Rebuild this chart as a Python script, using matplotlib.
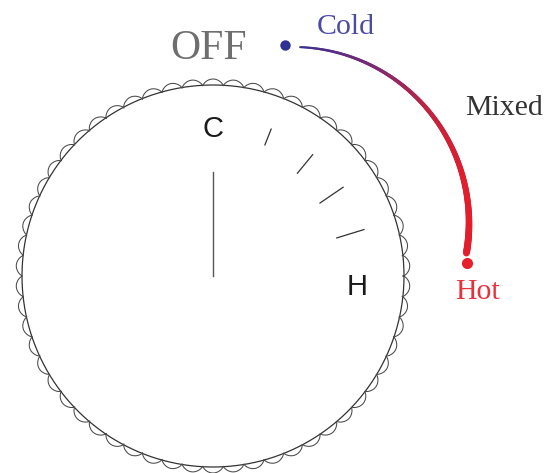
import numpy as np
import matplotlib.pyplot as plt
from matplotlib.collections import LineCollection
from matplotlib.colors import to_rgb

# dial geometry (pixel units, y pointing down)
dial_center = (213, 276)
dial_radius = 191
n_bumps = 58
bump_height = 7

# scale ticks: angle from 12 o'clock (deg), inner / outer radius
tick_angles = [21.6, 39.4, 55.7, 72.9]
tick_inner = [141, 133, 129.5, 129.5]
tick_outer = [158, 157, 157.5, 158]

# temperature arc
arc_center = (293, 223)
arc_radius = 176
arc_start, arc_end = 2.3, 99.8
arc_colors = ["#3a3091", "#7a2a74", "#c0243f", "#e21d2c", "#e31d2b"]
arc_widths = (2.0, 7.0)

labels = {"OFF": (209, 49), "Cold": (346, 27), "Mixed": (504, 108), "Hot": (478, 292)}
label_colors = {"OFF": "#6e6e6e", "Cold": "#4b4aa6", "Mixed": "#333333", "Hot": "#e8323c"}

fig = plt.figure(figsize=(5.49, 4.73), dpi=100)
ax = fig.add_axes([0, 0, 1, 1])
ax.set_xlim(0, 549)
ax.set_ylim(473, 0)
ax.set_aspect("equal")
ax.axis("off")

cx, cy = dial_center
th = np.linspace(0, 2 * np.pi, 4000)
ax.plot(cx + dial_radius * np.cos(th), cy + dial_radius * np.sin(th), color="#333333", lw=0.9)
wave = np.abs(np.sin(n_bumps * th / 2)) ** 0.6
rb = dial_radius - 1 + bump_height * wave
ax.plot(cx + rb * np.cos(th), cy + rb * np.sin(th), color="#4a4a4a", lw=0.75)

# needle
ax.plot([cx, cx], [cy - 104, cy], color="#555555", lw=1.0)

for a, r0, r1 in zip(tick_angles, tick_inner, tick_outer):
    t = np.radians(a)
    ax.plot([cx + r0 * np.sin(t), cx + r1 * np.sin(t)],
            [cy - r0 * np.cos(t), cy - r1 * np.cos(t)], color="#333333", lw=0.9)

ax.text(cx, cy - 147, "C", ha="center", va="center", fontsize=21,
        family="Liberation Sans", color="#1a1a1a")
ax.text(cx + 144 * np.sin(np.radians(93.6)), cy - 144 * np.cos(np.radians(93.6)) + 2, "H",
        ha="center", va="center", fontsize=21, family="Liberation Sans", color="#1a1a1a")

# gradient arc
ax0, ay0 = arc_center
phi = np.radians(np.linspace(arc_start, arc_end, 200))
xs = ax0 + arc_radius * np.sin(phi)
ys = ay0 - arc_radius * np.cos(phi)
pts = np.column_stack([xs, ys]).reshape(-1, 1, 2)
segs = np.concatenate([pts[:-1], pts[1:]], axis=1)
u = np.linspace(0, 1, len(segs))
stops = np.linspace(0, 1, len(arc_colors))
rgb = np.array([to_rgb(c) for c in arc_colors])
cols = np.column_stack([np.interp(u, stops, rgb[:, k]) for k in range(3)])
lws = (arc_widths[0] + (arc_widths[1] - arc_widths[0]) * u) * 0.72
ax.add_collection(LineCollection(segs, colors=cols, linewidths=lws, capstyle="round"))

ax.plot(285, 45, "o", ms=7.5, color="#2e3192", mec="none")
ax.plot(467, 263, "o", ms=8, color="#e8202b", mec="none")

for name, (x, y) in labels.items():
    ax.text(x, y, name, ha="center", va="center", family="Liberation Serif",
            fontsize=30 if name == "OFF" else 21.5, color=label_colors[name])

fig.savefig("out.png", dpi=100)
